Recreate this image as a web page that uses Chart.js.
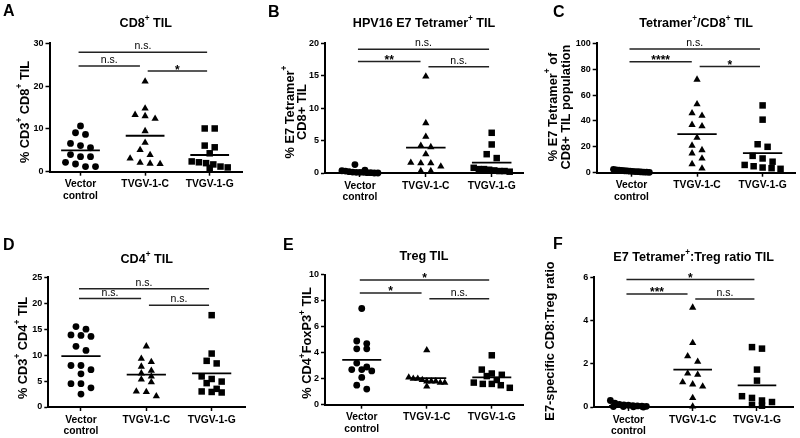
<!DOCTYPE html>
<html>
<head>
<meta charset="utf-8">
<script src="https://cdn.jsdelivr.net/npm/chart.js@4.4.1/dist/chart.umd.min.js"></script>
<style>
  body { margin: 0; background: #fff; overflow: hidden; }
  #wrap { position: relative; width: 800px; height: 438px; background: #fff; }
  #wrap canvas { position: absolute; left: 0; top: 0; }
</style>
</head>
<body>
<div id="wrap">
  <canvas id="cA" width="800" height="438"></canvas>
  <canvas id="cB" width="800" height="438"></canvas>
  <canvas id="cC" width="800" height="438"></canvas>
  <canvas id="cD" width="800" height="438"></canvas>
  <canvas id="cE" width="800" height="438"></canvas>
  <canvas id="cF" width="800" height="438"></canvas>
</div>
<script>
// groups on the x axis
const categories = [['Vector', 'control'], 'TVGV-1-C', 'TVGV-1-G'];

// A: CD8+ TIL
const cd8Vector = [10.7, 9.1, 8.7, 6.6, 6.1, 5.6, 4.0, 3.5, 3.5, 2.2, 1.8, 1.2, 1.2];
const cd8TvgvC  = [21.1, 14.8, 13.3, 13.0, 12.4, 9.5, 6.8, 5.1, 3.9, 3.1, 2.1, 1.9, 1.8];
const cd8TvgvG  = [10.1, 10.1, 6.1, 5.7, 4.3, 2.4, 2.2, 2.0, 1.7, 1.2, 0.9, 1.0];
const cd8Means  = [5.0, 8.4, 3.9];
const cd8Sig    = [27.9, 24.7, 23.5];
const cd8SigTxt = ['n.s.', 'n.s.', '*'];

// B: HPV16 E7 tetramer+ TIL
const tetVector = [1.3, 0.45, 0.35, 0.3, 0.2, 0.15, 0.1, 0.1, 0.05, 0.05, 0.0, 0.0, 0.1];
const tetTvgvC  = [14.9, 7.7, 5.6, 4.2, 4.0, 2.9, 1.6, 1.5, 1.5, 1.0, 0.3, 0.3];
const tetTvgvG  = [6.2, 4.4, 2.9, 2.3, 0.8, 0.6, 0.6, 0.5, 0.4, 0.3, 0.3, 0.2];
const tetMeans  = [0.2, 3.9, 1.6];
const tetSig    = [19.1, 17.2, 16.4];
const tetSigTxt = ['n.s.', '**', 'n.s.'];

// C: tetramer+/CD8+ TIL
const pctVector = [2.6, 2.2, 2.0, 1.8, 1.5, 1.4, 1.2, 1.0, 0.9, 0.8, 0.6, 0.5, 0.4, 0.3];
const pctTvgvC  = [72, 53, 46, 44, 37, 36, 27, 21, 17.5, 15, 11, 6.7, 3.3];
const pctTvgvG  = [52, 41, 22, 20, 13, 11, 8.5, 6, 5, 4, 3.5, 3];
const pctMeans  = [1.3, 29.8, 15.2];
const pctSig    = [95.6, 85.8, 82];
const pctSigTxt = ['n.s.', '****', '*'];

// D: CD4+ TIL
const cd4Vector = [15.5, 15.0, 13.9, 13.8, 13.6, 11.7, 10.9, 8.0, 8.0, 7.2, 6.4, 4.5, 4.5, 3.7, 2.5];
const cd4TvgvC  = [11.7, 9.3, 8.7, 7.8, 7.0, 6.5, 5.9, 5.3, 4.8, 3.0, 2.9, 2.1];
const cd4TvgvG  = [17.7, 10.3, 8.9, 8.4, 5.9, 5.4, 4.9, 4.6, 3.5, 3.0, 2.9, 2.8];
const cd4Means  = [9.8, 6.25, 6.5];
const cd4Sig    = [22.8, 20.9, 19.6];
const cd4SigTxt = ['n.s.', 'n.s.', 'n.s.'];

// E: Treg TIL
const tregVector = [7.4, 4.9, 4.7, 4.3, 4.3, 3.2, 2.9, 2.7, 2.7, 2.6, 2.1, 1.5, 1.2];
const tregTvgvC  = [4.2, 2.1, 2.0, 2.0, 1.9, 1.8, 1.8, 1.8, 1.7, 1.7, 1.4];
const tregTvgvG  = [3.8, 2.7, 2.4, 2.3, 2.2, 1.9, 1.7, 1.6, 1.6, 1.5, 1.3];
const tregMeans  = [3.45, 2.05, 2.1];
const tregSig    = [9.6, 8.6, 8.15];
const tregSigTxt = ['*', '*', 'n.s.'];

// F: E7 tetramer+:Treg ratio
const ratioVector = [0.3, 0.18, 0.12, 0.1, 0.08, 0.06, 0.05, 0.04, 0.03, 0.02, 0.02, 0.01, 0.0];
const ratioTvgvC  = [4.6, 2.96, 2.35, 2.1, 1.55, 1.5, 1.15, 1.05, 0.95, 0.42, 0.03];
const ratioTvgvG  = [2.77, 2.7, 1.73, 1.22, 0.5, 0.42, 0.3, 0.23, 0.1, 0.06];
const ratioMeans  = [0.05, 1.73, 1.0];
const ratioSig    = [5.9, 5.23, 5.0];
const ratioSigTxt = ['*', '***', 'n.s.'];

const FONT = '"Liberation Sans", Arial, Helvetica, sans-serif';
Chart.defaults.font.family = FONT;

// significance bars: top (vector-G), left (vector-C), right (C-G)
const SIG_SPANS = [[-0.03, 1.96], [-0.03, 0.92], [1.04, 1.96]];
const SHAPES = ['circle', 'triangle', 'rect'];
const RADII = [3.4, 4.2, 4.6];

// '^' marks the next character as superscript
function parseRich(s) {
  const out = [];
  let buf = '';
  for (let i = 0; i < s.length; i++) {
    if (s[i] === '^') {
      if (buf) out.push([buf, false]);
      buf = '';
      out.push([s[i + 1], true]);
      i++;
    } else {
      buf += s[i];
    }
  }
  if (buf) out.push([buf, false]);
  return out;
}

function drawRich(ctx, s, x, y, size, weight) {
  const segs = parseRich(s);
  const supSize = size * 0.65;
  const font = sz => `${weight} ${sz}px ${FONT}`;
  let w = 0;
  segs.forEach(([t, sup]) => { ctx.font = font(sup ? supSize : size); w += ctx.measureText(t).width; });
  let cx = x - w / 2;
  ctx.textAlign = 'left';
  ctx.textBaseline = 'middle';
  segs.forEach(([t, sup]) => {
    ctx.font = font(sup ? supSize : size);
    ctx.fillText(t, cx, sup ? y - size * 0.38 : y);
    cx += ctx.measureText(t).width;
  });
}

// Prism-like scatter: points close in value share a row and are spread sideways
function swarm(vals, g, pxX, pxY) {
  const sorted = vals.slice().sort((a, b) => b - a);
  const pts = [];
  let i = 0;
  while (i < sorted.length) {
    const row = [sorted[i]];
    let j = i + 1;
    while (j < sorted.length && (sorted[i] - sorted[j]) * pxY < 6) { row.push(sorted[j]); j++; }
    const n = row.length;
    const gap = n > 1 ? Math.min(10, 36 / (n - 1)) : 0;
    row.forEach((v, k) => pts.push({ x: g + (k - (n - 1) / 2) * gap / pxX, y: v }));
    i = j;
  }
  return pts;
}

const panels = [
  { id: 'cA', letter: 'A', letterAt: [3, 12], title: 'CD8^+ TIL', titleY: 24,
    yTitle: ['% CD3^+ CD8^+ TIL'], yTitleAt: [25, 112], yTitleGap: 12,
    groups: [cd8Vector, cd8TvgvC, cd8TvgvG], means: cd8Means, sig: cd8Sig, sigTxt: cd8SigTxt,
    yMax: 30, step: 10, box: [49.5, 43.3, 242, 171.7], xr: [-0.48, 2.5] },
  { id: 'cB', letter: 'B', letterAt: [268, 12.5], title: 'HPV16 E7 Tetramer^+ TIL', titleY: 23.5,
    yTitle: ['% E7 Tetramer^+', 'CD8+ TIL'], yTitleAt: [296, 112], yTitleGap: 12,
    groups: [tetVector, tetTvgvC, tetTvgvG], means: tetMeans, sig: tetSig, sigTxt: tetSigTxt,
    yMax: 20, step: 5, box: [325, 43.3, 523, 173], xr: [-0.53, 2.475] },
  { id: 'cC', letter: 'C', letterAt: [553, 13], title: 'Tetramer^+/CD8^+ TIL', titleY: 24,
    yTitle: ['% E7 Tetramer^+ of', 'CD8+ TIL population'], yTitleAt: [559.5, 107], yTitleGap: 13,
    groups: [pctVector, pctTvgvC, pctTvgvG], means: pctMeans, sig: pctSig, sigTxt: pctSigTxt,
    yMax: 100, step: 20, box: [596.7, 43.3, 796, 172.7], xr: [-0.53, 2.5] },
  { id: 'cD', letter: 'D', letterAt: [3, 246], title: 'CD4^+ TIL', titleY: 259.5,
    yTitle: ['% CD3^+ CD4^+ TIL'], yTitleAt: [23, 348], yTitleGap: 12,
    groups: [cd4Vector, cd4TvgvC, cd4TvgvG], means: cd4Means, sig: cd4Sig, sigTxt: cd4SigTxt,
    yMax: 25, step: 5, box: [48.3, 277.3, 245, 407], xr: [-0.5, 2.51] },
  { id: 'cE', letter: 'E', letterAt: [283, 246], title: 'Treg TIL', titleY: 256.5,
    yTitle: ['% CD4^+FoxP3^+ TIL'], yTitleAt: [307.7, 343], yTitleGap: 12,
    groups: [tregVector, tregTvgvC, tregTvgvG], means: tregMeans, sig: tregSig, sigTxt: tregSigTxt,
    yMax: 10, step: 2, box: [325, 274.7, 523, 404.7], xr: [-0.565, 2.48] },
  { id: 'cF', letter: 'F', letterAt: [553, 245], title: 'E7 Tetramer^+:Treg ratio TIL', titleY: 257.5,
    yTitle: ['E7-specific CD8:Treg ratio'], yTitleAt: [550, 341], yTitleGap: 12,
    groups: [ratioVector, ratioTvgvC, ratioTvgvG], means: ratioMeans, sig: ratioSig, sigTxt: ratioSigTxt,
    yMax: 6, step: 2, box: [594.3, 277.3, 793, 407], xr: [-0.53, 2.56] }
];

function textPlugin(p) {
  return {
    id: 'panelText',
    afterDraw(chart) {
      const ctx = chart.ctx, xs = chart.scales.x, ys = chart.scales.y, area = chart.chartArea;
      ctx.save();
      ctx.fillStyle = '#000';
      ctx.font = `bold 16px ${FONT}`;
      ctx.textAlign = 'left';
      ctx.textBaseline = 'middle';
      ctx.fillText(p.letter, p.letterAt[0], p.letterAt[1]);
      drawRich(ctx, p.title, (area.left + area.right) / 2, p.titleY, 12.6, 'bold');

      ctx.save();
      ctx.translate(p.yTitleAt[0], p.yTitleAt[1]);
      ctx.rotate(-Math.PI / 2);
      p.yTitle.forEach((line, i) => drawRich(ctx, line, 0, (i - (p.yTitle.length - 1) / 2) * p.yTitleGap, 12.8, 'bold'));
      ctx.restore();

      SIG_SPANS.forEach((sp, i) => {
        const x = xs.getPixelForValue((sp[0] + sp[1]) / 2);
        const y = ys.getPixelForValue(p.sig[i]);
        const star = p.sigTxt[i] !== 'n.s.';
        ctx.font = star ? `bold 12px ${FONT}` : `10.5px ${FONT}`;
        ctx.textAlign = 'center';
        ctx.textBaseline = 'alphabetic';
        ctx.fillText(p.sigTxt[i], x, star ? y + 2.5 : y - 3);
      });
      ctx.restore();
    }
  };
}

const axisStyle = {
  grid: { drawOnChartArea: false, drawTicks: true, tickLength: 4, color: '#000', tickColor: '#000', tickWidth: 1.5 },
  border: { display: true, color: '#000', width: 2 }
};

panels.forEach(p => {
  const [L, T, R, B] = p.box;
  const pxX = (R - L) / (p.xr[1] - p.xr[0]);
  const pxY = (B - T) / p.yMax;
  const datasets = [];

  p.groups.forEach((vals, g) => {
    datasets.push({
      data: [{ x: g - 0.3, y: p.means[g] }, { x: g + 0.3, y: p.means[g] }],
      showLine: true, borderColor: '#000', borderWidth: 1.8, pointRadius: 0, clip: false
    });
    datasets.push({
      data: swarm(vals, g, pxX, pxY),
      pointStyle: SHAPES[g], pointRadius: RADII[g], backgroundColor: '#000',
      borderColor: '#000', borderWidth: 0, clip: false
    });
  });
  SIG_SPANS.forEach((sp, i) => {
    datasets.push({
      data: [{ x: sp[0], y: p.sig[i] }, { x: sp[1], y: p.sig[i] }],
      showLine: true, borderColor: '#222', borderWidth: 1.5, pointRadius: 0, clip: false
    });
  });

  new Chart(document.getElementById(p.id), {
    type: 'scatter',
    data: { datasets },
    options: {
      responsive: false,
      animation: false,
      events: [],
      layout: { padding: { left: L - 30, top: T, right: 800 - R, bottom: 438 - B - 34 } },
      plugins: { legend: { display: false }, tooltip: { enabled: false } },
      scales: {
        x: {
          type: 'linear', min: p.xr[0], max: p.xr[1],
          afterBuildTicks: s => { s.ticks = [0, 1, 2].map(v => ({ value: v })); },
          afterFit: s => { s.height = 34; },
          ticks: {
            callback: v => categories[v], color: '#000', padding: 3,
            maxRotation: 0, autoSkip: false,
            font: { size: 10.3, weight: 'bold', lineHeight: 1.1 }
          },
          ...axisStyle
        },
        y: {
          min: 0, max: p.yMax,
          afterFit: s => { s.width = 30; },
          ticks: { stepSize: p.step, color: '#000', padding: 2, font: { size: 9, weight: 'bold' } },
          ...axisStyle
        }
      }
    },
    plugins: [textPlugin(p)]
  });
});
</script>
</body>
</html>
